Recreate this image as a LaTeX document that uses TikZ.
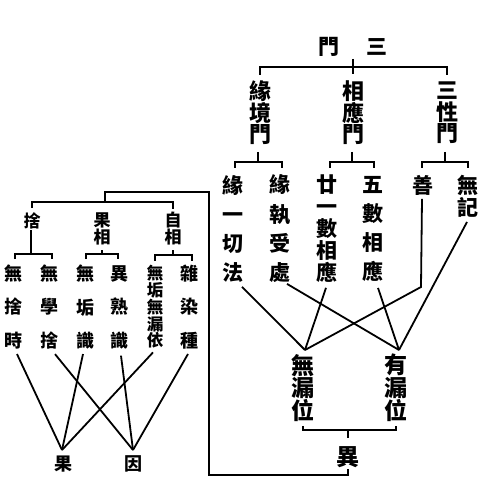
\documentclass[tikz,border=0pt]{standalone}
\usepackage{fontspec}
\newfontfamily\cjk{Noto Sans CJK TC}
\begin{document}
\begin{tikzpicture}[x=1pt,y=-1pt,line width=1.8pt,line join=miter,
  every node/.style={inner sep=0pt,align=center},
  ttl/.style={font=\cjk\bfseries\fontsize{21}{21}\selectfont},
  lvtwo/.style={font=\cjk\bfseries\fontsize{22}{21.5}\selectfont},
  lvthree/.style={font=\cjk\bfseries\fontsize{21}{29.3}\selectfont},
  lvdense/.style={font=\cjk\bfseries\fontsize{21}{22}\selectfont},
  lvbot/.style={font=\cjk\bfseries\fontsize{23}{20.5}\selectfont},
  lfttwo/.style={font=\cjk\bfseries\fontsize{17}{17}\selectfont},
  lftthree/.style={font=\cjk\bfseries\fontsize{18}{33.5}\selectfont},
  lftdense/.style={font=\cjk\bfseries\fontsize{16.5}{16.75}\selectfont},
  lftbot/.style={font=\cjk\bfseries\fontsize{18}{18}\selectfont}]
\useasboundingbox (0,0) rectangle (501,492);
\fill[white] (0,0) rectangle (501,492);
% title
\node[ttl] (t1) at (329,47) {門};
\node[ttl] (t2) at (377,47) {三};
% level two
\node[lvtwo] (m1) at (260,113) {緣\\境\\門};
\node[lvtwo] (m2) at (353,113) {相\\應\\門};
\node[lvtwo] (m3) at (447,113) {三\\性\\門};
% level three
\node[lvthree] (c1) at (233,229) {緣\\一\\切\\法};
\node[lvthree] (c2) at (280,229) {緣\\執\\受\\處};
\node[lvdense] (c3) at (327,229) {廿\\一\\數\\相\\應};
\node[lvthree] (c4) at (373,229) {五\\數\\相\\應};
\node[lvthree] (c5) at (423,185) {善};
\node[lvdense] (c6) at (468,196) {無\\記};
% bottom
\node[lvbot] (w) at (303,388) {無\\漏\\位};
\node[lvbot] (u) at (396,388) {有\\漏\\位};
\node[lvbot] (yi) at (348,457) {異};
\coordinate (wtop) at (305,350);
\coordinate (utop) at (399,350);
\coordinate (sbend) at (421,287);
% top bracket
\draw (m1 |- 0,75) -- (m1 |- 0,67) -- (m3 |- 0,67) -- (m3 |- 0,75);
\draw (353,59) -- (353,74);
% sub brackets
\draw (258,152) -- (258,162);
\draw (235,168) -- (235,162) -- (282,162) -- (282,168);
\draw (352,152) -- (352,162);
\draw (330,168) -- (330,162) -- (374,162) -- (374,168);
\draw (445,152) -- (445,162);
\draw (422,168) -- (422,162) -- (468,162) -- (468,168);
% connectors right
\draw ([shift={(9,3)}]c1.south) -- (wtop);
\draw ([shift={(7,0)}]c2.south) -- (utop);
\draw ([shift={(-1,4)}]c3.south) -- (wtop);
\draw ([shift={(5,5)}]c4.south) -- (utop);
\draw ([shift={(-1,3)}]c5.south) -- (sbend) -- (wtop);
\draw ([shift={(-1,4)}]c6.south) -- (utop);
% bottom bracket
\draw ([shift={(0,3)}]w.south) -- (w |- 0,430) -- (u |- 0,430) -- ([shift={(0,3)}]u.south);
\draw (yi |- 0,430) -- (yi |- 0,438);
% left part
\node[lfttwo] (L1) at (32,221) {捨};
\node[lfttwo] (L2) at (102,229) {果\\相};
\node[lfttwo] (L3) at (173,229) {自\\相};
\node[lftthree] (a1) at (14,307) {無\\捨\\時};
\node[lftthree] (a2) at (49,307) {無\\學\\捨};
\node[lftthree] (a3) at (85,307) {無\\垢\\識};
\node[lftthree] (a4) at (119,307) {異\\熟\\識};
\node[lftdense] (a5) at (155,307) {無\\垢\\無\\漏\\依};
\node[lftthree] (a6) at (189,307) {雜\\染\\種};
\node[lftbot] (g) at (63,464) {果};
\node[lftbot] (yn) at (133,464) {因};
\coordinate (gtop) at (62,450);
\coordinate (ytop) at (133,450);
\coordinate (k1) at (209,475);
\coordinate (k2) at (209,192);
\coordinate (k3) at (105,192);
% outer connector
\draw ([shift={(0,1)}]yi.south) -- (yi |- k1) -- (k1) -- (k2) -- (k3) -- (105,202);
% left brackets
\draw (L1 |- 0,208) -- (L1 |- 0,202) -- (L3 |- 0,202) -- (L3 |- 0,209);
\draw (31,230) -- (31,254);
\draw (15,259) -- (15,254) -- (52,254) -- (52,259);
\draw (102,250) -- (102,254);
\draw (86,259) -- (86,254) -- (118,254) -- (118,259);
\draw (173,250) -- (173,255);
\draw (155,261) -- (155,255) -- (192,255) -- (192,261);
% left connectors
\draw ([shift={(3,4)}]a1.south) -- (gtop);
\draw ([shift={(6,4)}]a2.south) -- (ytop);
\draw ([shift={(-2,4)}]a3.south) -- (gtop);
\draw ([shift={(2,6)}]a4.south) -- (ytop);
\draw ([shift={(-2,3)}]a5.south) -- (gtop);
\draw ([shift={(-1,4)}]a6.south) -- (ytop);
\end{tikzpicture}
\end{document}
